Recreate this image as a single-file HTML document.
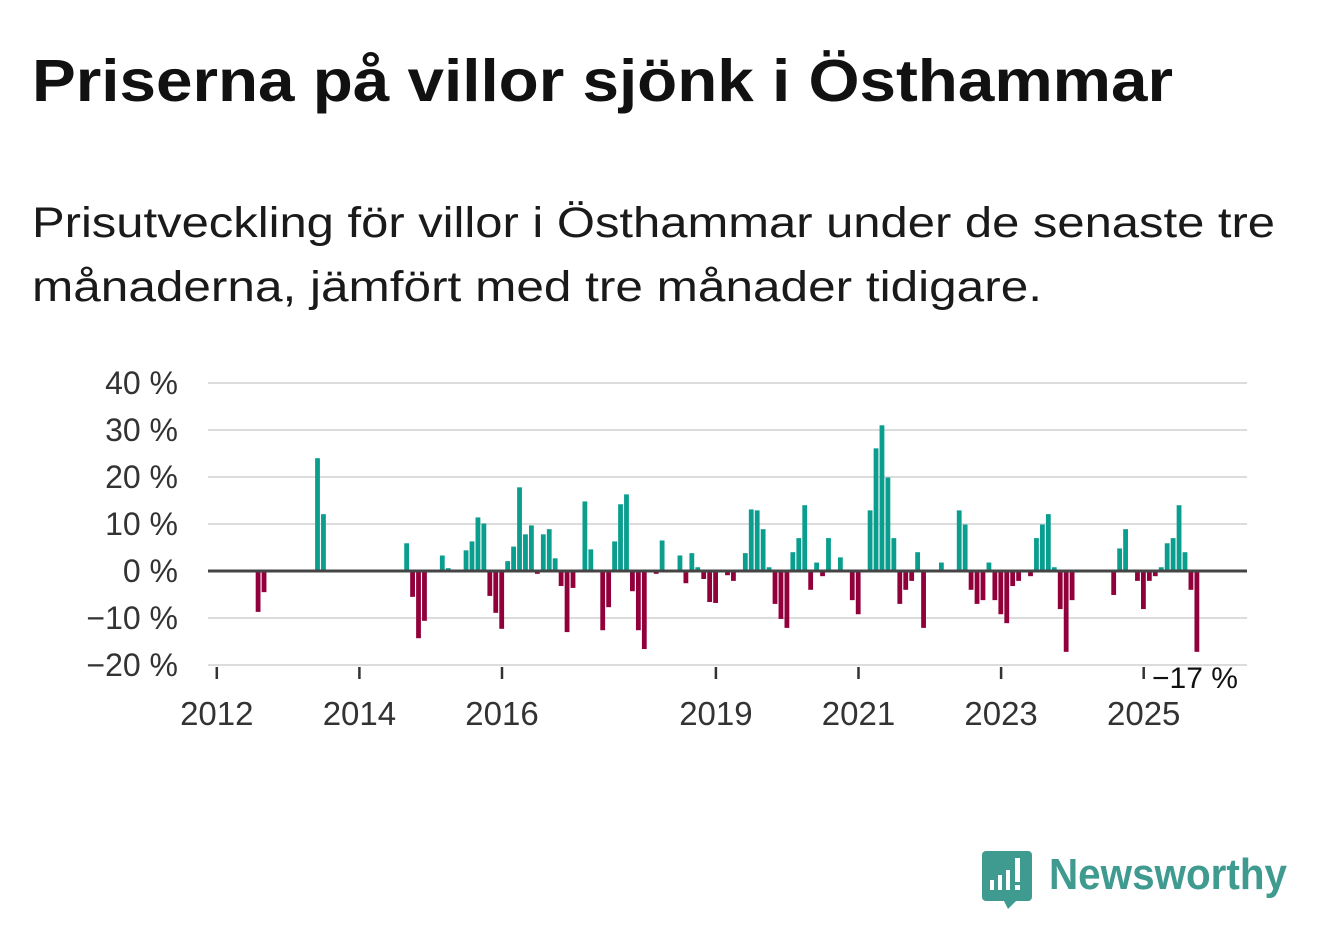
<!DOCTYPE html>
<html><head><meta charset="utf-8"><style>
html,body{margin:0;padding:0;background:#fff;}
svg{display:block;font-family:"Liberation Sans","DejaVu Sans",sans-serif;}
</style></head><body>
<svg width="1322" height="939" viewBox="0 0 1322 939">
<text x="32" y="101" font-size="59" font-weight="bold" fill="#111" textLength="1141" lengthAdjust="spacingAndGlyphs">Priserna på villor sjönk i Östhammar</text>
<text x="32" y="237" font-size="43" fill="#1a1a1a" textLength="1243" lengthAdjust="spacingAndGlyphs">Prisutveckling för villor i Östhammar under de senaste tre</text>
<text x="32" y="301" font-size="43" fill="#1a1a1a" textLength="1010" lengthAdjust="spacingAndGlyphs">månaderna, jämfört med tre månader tidigare.</text>
<g id="plot"></g>
<g>
<path d="M986 851 h42 a4 4 0 0 1 4 4 v42 a4 4 0 0 1 -4 4 h-12 l-8 8 l-4 -8 h-18 a4 4 0 0 1 -4 -4 v-42 a4 4 0 0 1 4 -4z" fill="#3f9a90"/>
<rect x="990" y="880" width="4" height="10" fill="#fff"/>
<rect x="998" y="875" width="4" height="15" fill="#fff"/>
<rect x="1006" y="870" width="4" height="20" fill="#fff"/>
<rect x="1015" y="858" width="5" height="24" fill="#fff"/>
<rect x="1015" y="885" width="5" height="5" fill="#fff"/>
<text x="1049" y="889" font-size="44" fill="#3f9a90" font-weight="bold" textLength="238" lengthAdjust="spacingAndGlyphs">Newsworthy</text>
</g>
</svg>
<script>
const monthIdx = [7,8,17,18,32,33,34,35,38,39,42,43,44,45,46,47,48,49,50,51,52,53,54,55,56,57,58,59,60,62,63,65,66,67,68,69,70,71,72,74,75,78,79,80,81,82,83,84,86,87,89,90,91,92,93,94,95,96,97,98,99,100,101,102,103,105,107,108,110,111,112,113,114,115,116,117,118,119,122,125,126,127,128,129,130,131,132,133,134,135,137,138,139,140,141,142,143,144,151,152,153,155,156,157,158,159,160,161,162,163,164,165];
const values = [-8.7,-4.5,24.0,12.1,5.9,-5.5,-14.3,-10.6,3.3,0.6,4.4,6.3,11.4,10.1,-5.3,-8.9,-12.3,2.1,5.2,17.8,7.8,9.7,-0.6,7.8,8.9,2.7,-3.2,-13.0,-3.6,14.8,4.6,-12.6,-7.7,6.3,14.2,16.3,-4.3,-12.6,-16.6,-0.6,6.5,3.3,-2.6,3.8,0.8,-1.7,-6.6,-6.8,-0.9,-2.1,3.8,13.1,12.9,8.9,0.8,-7.0,-10.2,-12.1,4.0,7.0,14.0,-4.0,1.8,-1.1,7.0,2.9,-6.2,-9.2,12.9,26.1,31.0,19.9,7.0,-7.0,-4.0,-2.1,4.0,-12.1,1.8,12.9,9.9,-4.0,-7.0,-6.2,1.8,-6.2,-9.2,-11.1,-3.2,-2.1,-1.1,7.0,9.9,12.1,0.8,-8.1,-17.2,-6.2,-5.1,4.8,8.9,-2.1,-8.1,-2.1,-1.1,0.8,5.9,7.0,14.0,4.0,-4.0,-17.2];
const yTicks = [40,30,20,10,0,-10,-20];
const yTickLabels = ["40 %","30 %","20 %","10 %","0 %","\u221210 %","\u221220 %"];
const xTickYears = [2012,2014,2016,2019,2021,2023,2025];
const lastLabel = "\u221217 %";

const NS = "http://www.w3.org/2000/svg";
const plot = document.getElementById('plot');
const x0 = 216.8, yearW = 71.3;
function xYear(yr){ return x0 + (yr-2012)*yearW; }
function xMonth(i){ return x0 + i*yearW/12 - 0.3; }
function y(v){ return 571 - v*4.7; }
function mk(tag, attrs){ const e=document.createElementNS(NS,tag); for(const k in attrs) e.setAttribute(k,attrs[k]); plot.appendChild(e); return e; }

yTicks.forEach((t,i)=>{
  if(t!==0){
    const g = mk('line',{x1:208,x2:1247,y1:y(t),y2:y(t),stroke:'#dcdcdc','stroke-width':2});
    
    
  }
  const l = mk('text',{x:178,y:y(t)+11,'font-size':32,fill:'#333','text-anchor':'end'});
  l.textContent = yTickLabels[i];
  
  
});
xTickYears.forEach(yr=>{
  const t = mk('line',{x1:xYear(yr),x2:xYear(yr),y1:667,y2:679,stroke:'#333','stroke-width':2.5});
  
  
  const l = mk('text',{x:xYear(yr),y:725,'font-size':33,fill:'#333','text-anchor':'middle'});
  l.textContent = yr;
  
  
});
values.forEach((v,i)=>{
  const cx = xMonth(monthIdx[i]);
  const r = mk('rect',{x:cx-2.4,width:4.8,y:Math.min(y(v),y(0)),height:Math.abs(y(v)-y(0)),fill:v>=0?'#0a9e8f':'#91003a'});
  
  
});
const z = mk('line',{x1:208,x2:1247,y1:y(0),y2:y(0),stroke:'#444','stroke-width':3});


const lb = mk('text',{x:1152,y:688,'font-size':30,fill:'#111'});
lb.textContent = lastLabel;


</script>
</body></html>
